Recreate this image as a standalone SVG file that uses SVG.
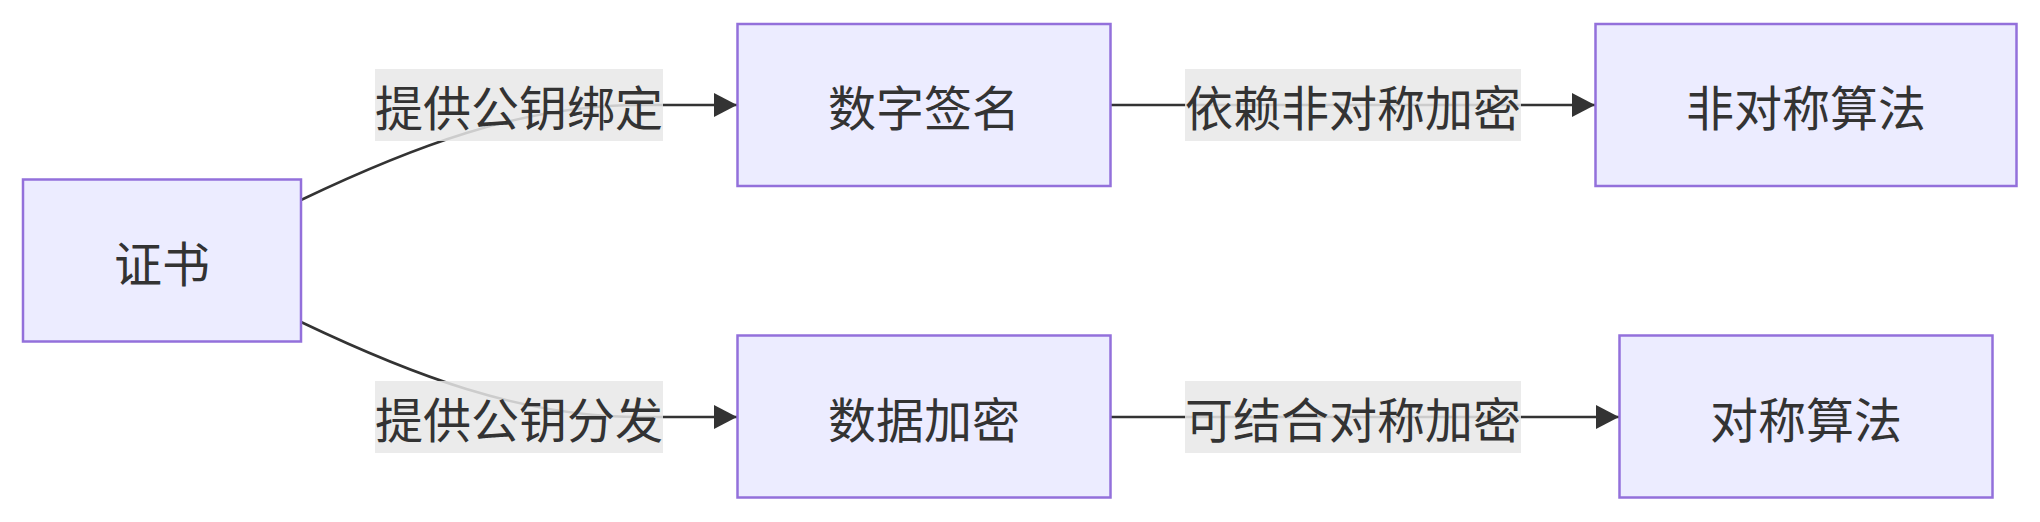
<svg xmlns="http://www.w3.org/2000/svg" width="2040" height="522" viewBox="0 0 2040 522">
<defs>
<style>
.node rect{fill:#ECECFF;stroke:#9370DB;stroke-width:2.5}
.node text,.label text{font-family:"Noto Sans CJK SC","Noto Sans",sans-serif;font-size:48px;fill:#333333;text-anchor:middle;dominant-baseline:central}
.edge{fill:none;stroke:#333333;stroke-width:2.5}
.label rect{fill:#e8e8e8;fill-opacity:0.85}
</style>
<marker id="arrow" markerUnits="userSpaceOnUse" markerWidth="24" markerHeight="24" refX="23" refY="12" orient="auto">
<path d="M0,0 L23,12 L0,24 z" fill="#333333"/>
</marker>
</defs>
<rect width="2040" height="522" fill="#ffffff"/>
<g id="connectors">
<path class="edge" d="M301,200 C410,148 520,105 640,105 L737,105" marker-end="url(#arrow)"/>
<path class="edge" d="M301,322 C410,374 520,417 640,417 L737,417" marker-end="url(#arrow)"/>
<path class="edge" d="M1111,105 L1595,105" marker-end="url(#arrow)"/>
<path class="edge" d="M1111,417 L1619,417" marker-end="url(#arrow)"/>
</g>
<g id="edge-labels">
<g class="label" id="label-1"><rect x="375" y="69" width="288" height="72"/><text x="519" y="105">提供公钥绑定</text></g>
<g class="label" id="label-2"><rect x="375" y="381" width="288" height="72"/><text x="519" y="417">提供公钥分发</text></g>
<g class="label" id="label-3"><rect x="1185" y="69" width="336" height="72"/><text x="1353" y="105">依赖非对称加密</text></g>
<g class="label" id="label-4"><rect x="1185" y="381" width="336" height="72"/><text x="1353" y="417">可结合对称加密</text></g>
</g>
<g class="node" id="node-cert"><rect x="23" y="179.5" width="278" height="162"/><text x="162" y="260.5">证书</text></g>
<g class="node" id="node-sign"><rect x="737.5" y="24" width="373" height="162"/><text x="924" y="105">数字签名</text></g>
<g class="node" id="node-enc"><rect x="737.5" y="335.5" width="373" height="162"/><text x="924" y="416.5">数据加密</text></g>
<g class="node" id="node-asym"><rect x="1595.5" y="24" width="421" height="162"/><text x="1806" y="105">非对称算法</text></g>
<g class="node" id="node-sym"><rect x="1619.5" y="335.5" width="373" height="162"/><text x="1806" y="416.5">对称算法</text></g>
</svg>
